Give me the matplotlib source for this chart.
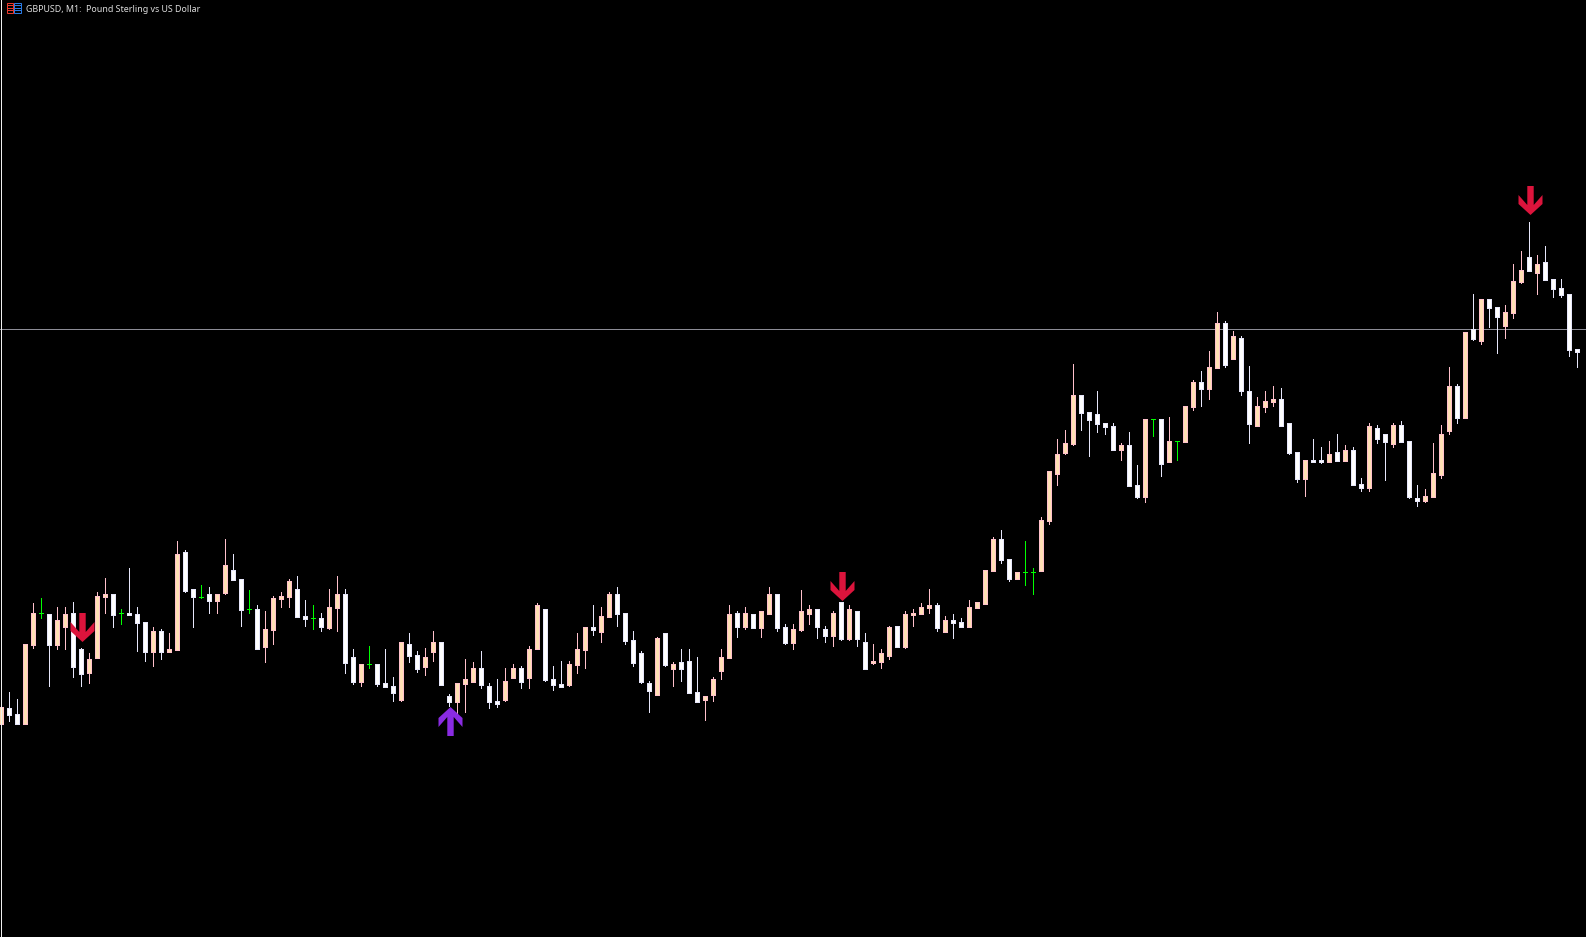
import matplotlib
matplotlib.use("Agg")
import matplotlib.pyplot as plt
from matplotlib.collections import LineCollection
from matplotlib.patches import Rectangle
from matplotlib.path import Path

TITLE = "GBPUSD, M1:  Pound Sterling vs US Dollar"

# OHLC of each minute bar, in points above a reference price
open_ = [637,687,669,637,873,971,969,873,927,972,864,789,834,1017,1029,971,972,969,945,852,918,852,858,1155,1044,1021,1029,1005,1029,1101,1074,983,984,
867,918,1011,1017,1044,963,956,957,924,984,1029,840,762,818,819,762,753,708,879,846,807,852,885,723,702,756,762,807,753,708,708,774,807,774,861,984,774,759,753,813,858,930,912,957,1029,972,891,852,762,723,912,801,825,828,735,708,723,795,834,972,927,969,924,966,1029,930,
879,918,966,984,924,900,1005,891,978,885,819,822,840,933,867,963,966,984,996,912,951,945,927,984,996,1095,1194,1134,1071,1094,1094,1095,
1245,1386,1449,1476,1626,1575,1569,1542,1533,1458,1476,1356,1317,1553,1554,1422,1487,1482,1587,1665,1641,1704,1842,1731,1797,1638,1530,1587,1602,1614,1542,1455,1371,
1431,1431,1422,1455,1425,1461,1359,1344,1527,1509,1476,1536,1488,1317,1305,1317,1383,1515,1653,1554,1824,1785,1914,1890,1830,1869,1962,2040,1989,2025,1974,1947,1929,1764]
high = [690,735,714,879,1002,1017,969,990,990,1005,867,852,1035,1077,1029,984,1107,990,945,930,924,912,1188,1161,1044,1056,1050,1029,1194,1149,1074,1041,996,
978,1023,1035,1074,1083,1011,996,972,1044,1083,1044,864,819,873,819,864,780,885,912,858,867,918,885,729,762,834,825,858,762,774,807,819,813,873,1002,984,813,828,828,912,930,996,990,1035,1050,972,918,858,768,900,912,825,864,864,840,723,780,864,996,978,990,969,978,1050,1029,939,
939,1041,996,984,933,978,1005,996,978,912,879,864,933,933,978,984,1002,1044,1002,963,969,957,1011,1005,1101,1200,1221,1134,1095,1188,1107,1260,
1398,1494,1521,1719,1626,1575,1638,1542,1542,1482,1515,1416,1554,1554,1554,1560,1487,1593,1671,1698,1758,1875,1848,1818,1803,1713,1620,1638,1653,1647,1542,1455,1431,
1494,1470,1488,1509,1476,1470,1377,1542,1536,1509,1542,1548,1488,1356,1344,1482,1536,1710,1659,1815,1929,1914,1914,1890,1896,2019,2058,2145,2046,2073,1974,1974,1929,1764]
low = [637,645,637,637,864,954,750,861,861,777,750,759,834,969,927,936,963,855,825,810,831,852,858,1032,927,1014,969,969,1026,1068,930,969,861,
822,876,987,987,957,930,921,915,921,915,789,756,750,804,750,747,705,705,822,792,783,825,753,691,666,672,762,744,684,687,705,774,744,744,861,765,738,747,750,789,804,903,882,957,930,876,810,759,672,723,810,750,765,729,702,648,705,771,834,897,921,924,897,966,915,876,
861,915,936,894,882,870,888,888,870,801,816,804,831,867,864,930,966,969,915,912,894,927,927,984,996,1095,1119,1065,1071,1053,1026,1095,
1236,1353,1446,1473,1518,1440,1512,1506,1458,1428,1350,1314,1302,1500,1380,1422,1428,1482,1578,1590,1611,1704,1707,1731,1623,1479,1530,1572,1590,1530,1446,1362,1320,
1422,1419,1422,1425,1425,1353,1335,1335,1479,1368,1467,1482,1314,1290,1302,1317,1374,1506,1539,1554,1788,1776,1827,1749,1794,1854,1959,1995,1926,1968,1917,1917,1740,1707]
close = [690,663,637,879,972,971,873,951,969,807,786,834,1023,1029,963,971,963,939,852,918,852,864,1149,1035,1017,1021,1005,1029,1116,1068,978,983,861,
924,1017,1023,1068,957,951,956,927,990,1029,819,762,819,818,756,747,729,885,840,801,840,885,753,702,762,774,807,753,702,696,768,807,762,864,996,768,753,747,819,864,930,918,963,1029,966,885,819,762,735,897,813,819,801,729,702,723,774,840,969,927,972,924,978,1029,924,879,
924,978,984,927,900,972,891,984,891,801,828,852,930,867,969,972,990,996,924,951,939,927,990,1005,1101,1194,1128,1071,1095,1094,1094,1251,
1398,1449,1482,1626,1569,1548,1536,1527,1458,1476,1350,1317,1554,1553,1416,1488,1487,1593,1665,1641,1710,1842,1713,1803,1635,1536,1593,1608,1614,1530,1449,1371,1431,
1422,1422,1449,1425,1461,1353,1344,1533,1491,1482,1536,1482,1317,1305,1323,1392,1509,1653,1554,1815,1791,1914,1884,1857,1875,1968,2001,1995,2019,1968,1941,1923,1758,1752]

# Signal arrows: bar index and the price level they sit at
sell_bars = [10.125, 105.125, 191.125]
sell_levels = [931, 1054, 2212]
buy_bars = [56.125]
buy_levels = [648]

# Crosshair
cross_bar = 0
cross_level = 1823

PX_PER_BAR = 8
POINTS_PER_PX = 3
W, H = 1586, 937

BG = "#000000"
UP_FILL, UP_EDGE = "#FFE0B4", "#FFC0CB"
DN_FILL, DN_EDGE = "#FFFFFF", "#E6E6FA"
DOJI = "#00FF00"
CROSS = "#8C8C96"
SELL, BUY = "#DC143C", "#8A2BE2"

fig = plt.figure(figsize=((W + 0.2) / 100, (H + 0.2) / 100), dpi=100, facecolor=BG)
ax = fig.add_axes([0, 0, 1, 1], facecolor=BG)
ax.set_xlim(-1.0 / PX_PER_BAR, (W - 1.0) / PX_PER_BAR)
ax.set_ylim(0, H * POINTS_PER_PX)
ax.axis("off")

px = 0.72  # one pixel in points
hw = 2.25 / PX_PER_BAR
inset = POINTS_PER_PX / 2  # bar outlines are stroked half a pixel inside the range
for i, (o, h, l, c) in enumerate(zip(open_, high, low, close)):
    if o == c:
        col, fill, edge = DOJI, None, None
    elif c > o:
        col, fill, edge = UP_EDGE, UP_FILL, UP_EDGE
    else:
        col, fill, edge = DN_EDGE, DN_FILL, DN_EDGE
    # the line's square cap reaches one pixel past the low, so end it that much earlier
    ax.add_collection(LineCollection([[(i, l + POINTS_PER_PX), (i, h)]], colors=col,
                                     linewidths=px, antialiaseds=False, zorder=2))
    if o == c:
        ax.add_collection(LineCollection([[(i - hw, o), (i + hw, o)]], colors=col,
                                         linewidths=px, antialiaseds=False, zorder=2))
    else:
        lo, hi = min(o, c) + inset, max(o, c) - inset
        ax.add_patch(Rectangle((i - hw, lo), 2 * hw, hi - lo, facecolor=fill,
                               edgecolor=edge, linewidth=px, antialiased=False, zorder=3))

ax.axhline(cross_level, color=CROSS, lw=px, antialiased=False, zorder=1)
ax.axvline(cross_bar, color="#F0F0F0", lw=px, antialiased=False, zorder=4)

A = 14.5
verts = [(-3.2, 14.5), (3.2, 14.5), (3.2, -4.5), (12, 5.5), (12, -3.5), (0, -14.5),
         (-12, -3.5), (-12, 5.5), (-3.2, -4.5), (-3.2, 14.5)]
down_path = Path([(x / A, y / A) for x, y in verts], closed=True)
up_path = Path([(x / A, -y / A) for x, y in verts], closed=True)
ms = 2 * A * px
ax.plot(sell_bars, sell_levels, ls="none", marker=down_path, ms=ms, mfc=SELL, mec="none", zorder=5)
ax.plot(buy_bars, buy_levels, ls="none", marker=up_path, ms=ms, mfc=BUY, mec="none", zorder=5)

# Window title and its small chart icon, in pixel positions of the figure
tr = fig.transFigure
def fx(v): return v / W
def fy(v): return 1 - v / H
for (x0, x1, c) in [(6.5, 13, "#E8392C"), (14, 21, "#2A7BE4")]:
    fig.add_artist(Rectangle((fx(x0), fy(13.5)), fx(x1 - x0), 10 / H, fill=False,
                             edgecolor=c, lw=px, transform=tr))
    for y in (6.5, 9, 11.5):
        fig.add_artist(Rectangle((fx(x0), fy(y)), fx(x1 - x0), 0.9 / H, facecolor=c,
                                 edgecolor="none", transform=tr))
fig.text(fx(26), fy(9.5), TITLE, color="#DCDCDC", fontsize=6.4, family="Noto Sans",
         ha="left", va="center")

fig.savefig("out.png", dpi=100, facecolor=BG)
